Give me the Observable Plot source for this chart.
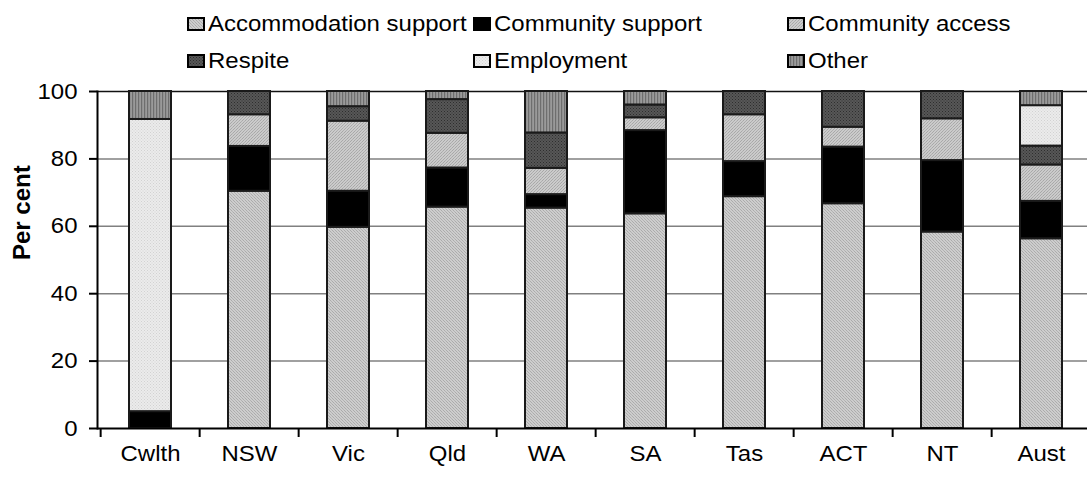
<!DOCTYPE html>
<html><head><meta charset="utf-8">
<script src="https://cdn.jsdelivr.net/npm/d3@7"></script>
<script src="https://cdn.jsdelivr.net/npm/@observablehq/plot@0.6"></script>
<style>
body{margin:0;background:#fff;font-family:"Liberation Sans",Arial,sans-serif;}
#legend{position:relative;height:78px;width:1087px;}
.item{position:absolute;display:flex;align-items:center;height:22px;}
.item svg{display:block;}
.lbl{font-size:22px;transform:scaleX(1.09);transform-origin:left center;white-space:nowrap;margin-left:3px;line-height:22px;color:#000}
</style></head><body>
<svg width="0" height="0" style="position:absolute">
<defs>
<pattern id="pAcc" width="3" height="3" patternUnits="userSpaceOnUse"><rect width="3" height="3" fill="#cdcdcd"/><rect x="0" y="0" width="1" height="1" fill="#ababab"/><rect x="1" y="1" width="1" height="1" fill="#b3b3b3"/><rect x="2" y="2" width="1" height="1" fill="#ababab"/></pattern>
<pattern id="pCS" width="4" height="4" patternUnits="userSpaceOnUse"><rect width="4" height="4" fill="#000"/></pattern>
<pattern id="pCA" width="3" height="3" patternUnits="userSpaceOnUse"><rect width="3" height="3" fill="#cbcbcb"/><rect x="2" y="0" width="1" height="1" fill="#a8a8a8"/><rect x="1" y="1" width="1" height="1" fill="#b0b0b0"/><rect x="0" y="2" width="1" height="1" fill="#a8a8a8"/></pattern>
<pattern id="pRes" width="3" height="3" patternUnits="userSpaceOnUse"><rect width="3" height="3" fill="#575757"/><rect x="0" y="0" width="1" height="1" fill="#2e2e2e"/><rect x="1.5" y="1.5" width="1" height="1" fill="#333"/></pattern>
<pattern id="pEmp" width="3" height="3" patternUnits="userSpaceOnUse"><rect width="3" height="3" fill="#ebebeb"/><rect x="0" y="0" width="1" height="1" fill="#d2d2d2"/><rect x="1.5" y="1.5" width="1" height="1" fill="#d6d6d6"/></pattern>
<pattern id="pOth" width="3" height="3" patternUnits="userSpaceOnUse"><rect width="3" height="3" fill="#9a9a9a"/><rect x="0" y="0" width="1.2" height="3" fill="#6e6e6e"/></pattern>
</defs></svg>
<div id="legend"></div>
<div id="chart"></div>
<script>
const categories = ["Cwlth","NSW","Vic","Qld","WA","SA","Tas","ACT","NT","Aust"];
const series = ["Accommodation support","Community support","Community access","Respite","Employment","Other"];
const accommodation    = [0,    70.4, 59.7, 65.7, 65.4, 63.7, 68.8, 66.7, 58.3, 56.3];
const communitySupport = [5.0,  13.3, 10.7, 11.6,  4.0, 24.7, 10.4, 16.8, 21.2, 11.1];
const communityAccess  = [0,     9.4, 20.8, 10.3,  7.8,  3.8, 13.9,  5.9, 12.4, 10.8];
const respite          = [0,     6.9,  4.3, 10.0, 10.5,  3.8,  6.9, 10.6,  8.1,  5.6];
const employment       = [86.7,  0,    0,    0,    0,    0,    0,    0,    0,   12.0];
const other            = [8.3,   0,    4.5,  2.4, 12.3,  4.0,  0,    0,    0,    4.2];
const yTicks = [0, 20, 40, 60, 80, 100];
const patterns = ["url(#pAcc)","url(#pCS)","url(#pCA)","url(#pRes)","url(#pEmp)","url(#pOth)"];

const valuesBySeries = [accommodation, communitySupport, communityAccess, respite, employment, other];
const data = [];
series.forEach((s, si) => categories.forEach((c, ci) => {
  const v = valuesBySeries[si][ci];
  if (v > 0) data.push({category: c, series: s, value: v});
}));

// legend
const legendLayout = [
  {s: 0, left: 187, cy: 24}, {s: 1, left: 473, cy: 24}, {s: 2, left: 787, cy: 24},
  {s: 3, left: 187, cy: 60.5}, {s: 4, left: 473, cy: 60.5}, {s: 5, left: 787, cy: 60.5}
];
const legend = document.getElementById("legend");
legendLayout.forEach(({s, left, cy}) => {
  const it = document.createElement("div");
  it.className = "item";
  it.style.left = left + "px";
  it.style.top = (cy - 11) + "px";
  it.innerHTML = `<svg width="18" height="14"><rect x="1" y="1" width="16" height="12" fill="${patterns[s]}" stroke="#000" stroke-width="2"/></svg><span class="lbl">${series[s]}</span>`;
  legend.appendChild(it);
});

const width = 1087, height = 401, mL = 97, mT = 13, mB = 51;
const step = 99.7;
const chart = Plot.plot({
  width, height,
  marginLeft: mL, marginRight: 0, marginTop: mT, marginBottom: mB,
  style: {fontFamily: "'Liberation Sans', Arial, sans-serif", fontSize: "22px", color: "#000", background: "#fff"},
  x: {domain: categories, range: [mL, mL + step * categories.length], paddingInner: 0.58, paddingOuter: 0.29, label: null},
  y: {domain: [0, 100], label: null},
  color: {type: "ordinal", domain: series, range: patterns},
  marks: [
    Plot.ruleY([20, 40, 60, 80], {stroke: "#808080", strokeWidth: 1.5}),
    Plot.ruleY([100], {stroke: "#111", strokeWidth: 1.5}),
    Plot.barY(data, {x: "category", y: "value", fill: "series", z: "series", stroke: "#1a1a1a", strokeWidth: 2}),
    Plot.ruleY([0], {stroke: "#000", strokeWidth: 2}),
    Plot.frame({anchor: "left", stroke: "#000", strokeWidth: 2}),
    Plot.axisY({ticks: yTicks, tickSize: 8, tickPadding: 12, strokeWidth: 2, fontSize: 22, tickFormat: d => String(d), label: null}),
    Plot.axisX({tickSize: 9, dx: -step / 2, strokeWidth: 2, tickFormat: () => "", label: null}),
    Plot.axisX({tickSize: 0, tickPadding: 17, fontSize: 22, label: null}),
    Plot.text(["Per cent"], {frameAnchor: "left", dx: -75, rotate: -90, fontWeight: "bold", fontSize: 24, text: d => d})
  ]
});
chart.querySelectorAll('g[aria-label$="tick label"] text').forEach(t => {
  const tr = t.getAttribute("transform") || "";
  t.setAttribute("transform", tr + " scale(1.09,1)");
});
document.getElementById("chart").appendChild(chart);
</script>
</body></html>
